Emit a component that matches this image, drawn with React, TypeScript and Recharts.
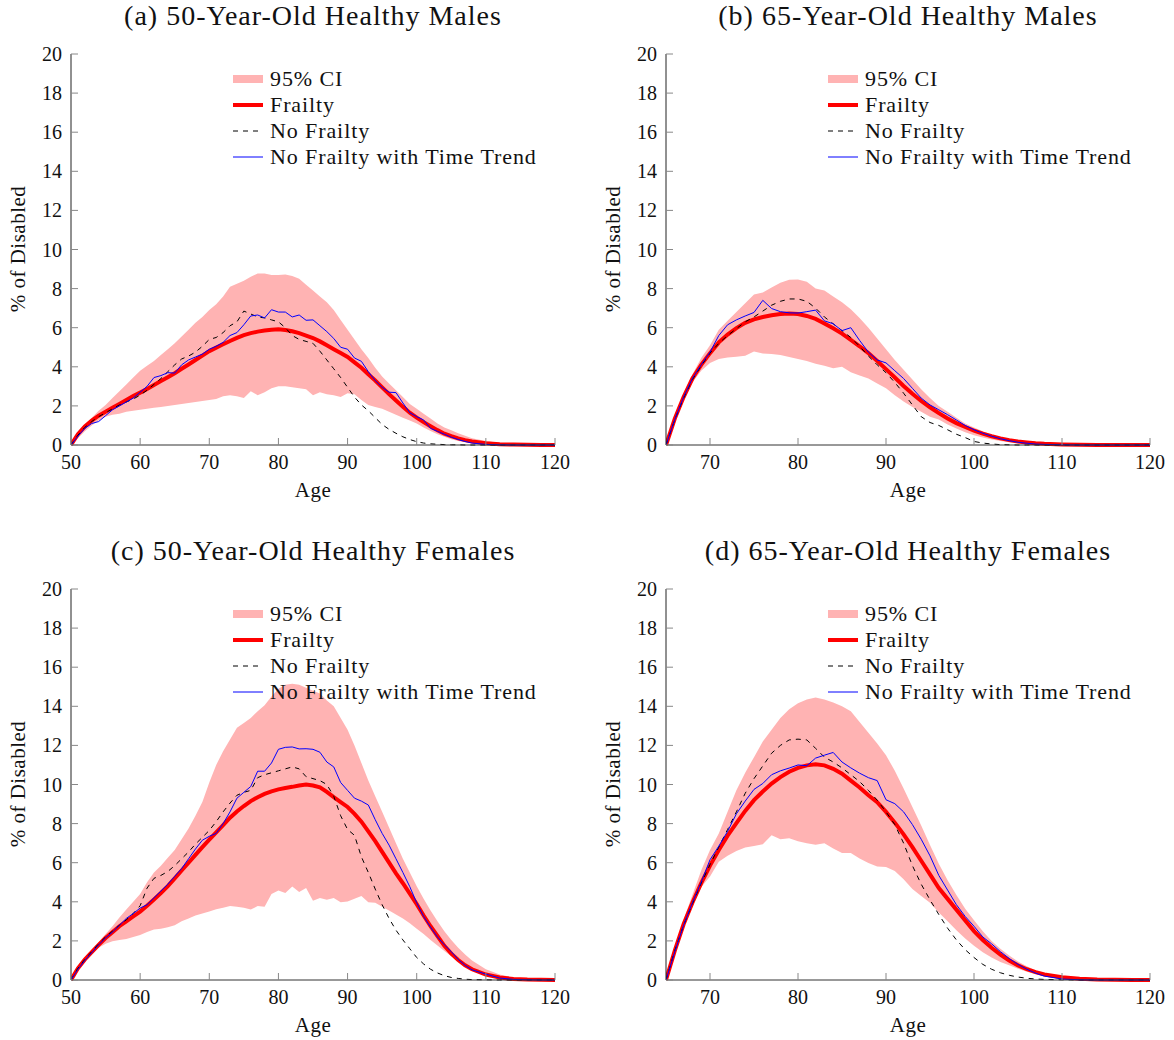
import { ComposedChart, Area, Line, XAxis, YAxis, Legend } from 'recharts';

// ages used by the 50-year-old panels (a, c) and the 65-year-old panels (b, d)
const ages50 = [
  50, 51, 52, 53, 54, 55, 56, 57, 58, 59,
  60, 61, 62, 63, 64, 65, 66, 67, 68, 69,
  70, 71, 72, 73, 74, 75, 76, 77, 78, 79,
  80, 81, 82, 83, 84, 85, 86, 87, 88, 89,
  90, 91, 92, 93, 94, 95, 96, 97, 98, 99,
  100, 101, 102, 103, 104, 105, 106, 107, 108,
  110, 112, 114, 116, 118, 120,
];
const ages65 = [
  65, 66, 67, 68, 69, 70, 71, 72, 73, 74,
  75, 76, 77, 78, 79, 80, 81, 82, 83, 84,
  85, 86, 87, 88, 89, 90, 91, 92, 93, 94,
  95, 96, 97, 98, 99, 100, 101, 102, 103, 104,
  105, 106, 107, 108,
  110, 112, 114, 116, 118, 120,
];

const ticks50 = [50, 60, 70, 80, 90, 100, 110, 120];
const ticks65 = [70, 80, 90, 100, 110, 120];
const yTicks = [0, 2, 4, 6, 8, 10, 12, 14, 16, 18, 20];

// (a) 50-year-old healthy males
const upperA = [
  0, 0.5, 1.0, 1.4, 1.75, 2.05, 2.4, 2.75, 3.1, 3.45,
  3.8, 4.05, 4.3, 4.6, 4.9, 5.2, 5.55, 5.9, 6.25, 6.55,
  6.9, 7.2, 7.6, 8.1, 8.25, 8.4, 8.6, 8.77, 8.77, 8.7,
  8.7, 8.72, 8.65, 8.5, 8.2, 7.9, 7.6, 7.3, 6.9, 6.4,
  5.9, 5.4, 4.9, 4.45, 3.95, 3.5, 3.15, 2.8, 2.45, 2.1,
  1.85, 1.6, 1.35, 1.1, 0.9, 0.75, 0.6, 0.47, 0.35,
  0.2, 0.1, 0.05, 0.02, 0.01, 0,
];
const lowerA = [
  0, 0.35, 0.7, 1.0, 1.25, 1.45, 1.55, 1.6, 1.7, 1.75,
  1.8, 1.85, 1.9, 1.95, 2.0, 2.05, 2.1, 2.15, 2.2, 2.25,
  2.3, 2.35, 2.5, 2.55, 2.5, 2.4, 2.75, 2.55, 2.7, 2.9,
  3.0, 3.0, 2.95, 2.9, 2.85, 2.55, 2.7, 2.6, 2.55, 2.45,
  2.65, 2.6, 2.3, 2.05, 1.95, 1.85, 1.7, 1.55, 1.4, 1.25,
  1.1, 0.9, 0.72, 0.55, 0.42, 0.3, 0.2, 0.14, 0.1,
  0.05, 0.02, 0.01, 0, 0, 0,
];
const frailA = [
  0, 0.55, 0.95, 1.25, 1.5, 1.7, 1.9, 2.1, 2.3, 2.5,
  2.68, 2.87, 3.07, 3.27, 3.47, 3.67, 3.9, 4.12, 4.35, 4.57,
  4.8, 4.98, 5.15, 5.32, 5.48, 5.62, 5.72, 5.8, 5.86, 5.9,
  5.92, 5.88, 5.82, 5.72, 5.6, 5.47, 5.3, 5.1, 4.9, 4.7,
  4.5, 4.23, 3.95, 3.62, 3.3, 2.95, 2.6, 2.28, 1.95, 1.65,
  1.4, 1.17, 0.96, 0.76, 0.58, 0.45, 0.34, 0.25, 0.18,
  0.09, 0.04, 0.02, 0.01, 0, 0,
];
const noFrailA = [
  0, 0.5, 0.9, 1.2, 1.45, 1.65, 1.85, 2.05, 2.2, 2.35,
  2.55, 2.8, 3.1, 3.4, 3.75, 4.1, 4.4, 4.55, 4.75, 5.05,
  5.4, 5.5, 5.75, 6.1, 6.3, 6.85, 6.7, 6.55, 6.5, 6.4,
  6.3, 6.0, 5.6, 5.4, 5.3, 5.2, 4.8, 4.35, 3.9, 3.45,
  2.95, 2.45, 2.05, 1.75, 1.4, 1.05, 0.8, 0.6, 0.42, 0.28,
  0.17, 0.1, 0.06, 0.04, 0.02, 0.01, 0.01, 0, 0,
  0, 0, 0, 0, 0, 0,
];
const trendA = [
  0, 0.45, 0.85, 1.1, 1.2, 1.5, 1.8, 2.0, 2.2, 2.4,
  2.7, 3.0, 3.45, 3.55, 3.7, 3.68, 4.1, 4.35, 4.5, 4.65,
  4.9, 5.05, 5.25, 5.6, 5.75, 6.15, 6.6, 6.65, 6.5, 6.92,
  6.8, 6.8, 6.55, 6.65, 6.38, 6.4, 6.1, 5.8, 5.45, 5.0,
  4.9, 4.45, 4.28, 3.75, 3.3, 2.95, 2.7, 2.68, 2.15, 1.65,
  1.45, 1.28, 0.85, 0.7, 0.55, 0.4, 0.28, 0.18, 0.1,
  0.03, 0.01, 0, 0, 0, 0,
];

// (b) 65-year-old healthy males
const upperB = [
  0, 1.45, 2.6, 3.6, 4.45, 5.1, 5.9, 6.35, 6.8, 7.25,
  7.7, 7.8, 8.05, 8.3, 8.45, 8.47, 8.35, 8.0, 7.9, 7.6,
  7.3, 6.95, 6.5, 6.0, 5.45, 4.9, 4.35, 3.85, 3.35, 2.85,
  2.4, 2.0, 1.7, 1.4, 1.1, 0.9, 0.7, 0.52, 0.38, 0.27,
  0.18, 0.12, 0.08, 0.05,
  0.02, 0.01, 0, 0, 0, 0,
];
const lowerB = [
  0, 1.2, 2.3, 3.2, 3.8, 4.2, 4.4, 4.48, 4.52, 4.56,
  4.78, 4.68, 4.65, 4.6, 4.5, 4.4, 4.3, 4.15, 4.05, 3.92,
  4.0, 3.72, 3.55, 3.4, 3.15, 2.9, 2.55, 2.22, 1.95, 1.7,
  1.45, 1.3, 1.05, 0.85, 0.65, 0.5, 0.38, 0.28, 0.2, 0.14,
  0.1, 0.07, 0.04, 0.03,
  0.01, 0, 0, 0, 0, 0,
];
const frailB = [
  0, 1.35, 2.45, 3.4, 4.1, 4.7, 5.25, 5.65, 5.98, 6.25,
  6.43, 6.55, 6.64, 6.7, 6.72, 6.7, 6.6, 6.45, 6.22, 5.97,
  5.7, 5.38, 5.05, 4.7, 4.3, 3.88, 3.45, 3.02, 2.62, 2.25,
  1.93, 1.63, 1.36, 1.12, 0.92, 0.74, 0.58, 0.45, 0.34, 0.25,
  0.18, 0.13, 0.09, 0.06,
  0.03, 0.01, 0, 0, 0, 0,
];
const noFrailB = [
  0, 1.3, 2.4, 3.35, 4.05, 4.7, 5.2, 5.6, 5.95, 6.3,
  6.55, 6.85, 7.15, 7.35, 7.47, 7.47, 7.35, 7.0, 6.55, 6.2,
  5.85, 5.5, 5.05, 4.55, 4.1, 3.7, 3.2, 2.65, 2.05, 1.45,
  1.15, 1.0, 0.78, 0.55, 0.38, 0.18, 0.1, 0.05, 0.02, 0.01,
  0, 0, 0, 0,
  0, 0, 0, 0, 0, 0,
];
const trendB = [
  0, 1.3, 2.45, 3.4, 4.1, 4.75, 5.6, 6.15, 6.4, 6.6,
  6.78, 7.4, 6.98, 6.82, 6.76, 6.75, 6.82, 6.9, 6.35, 6.2,
  5.85, 6.0, 5.35, 4.75, 4.35, 4.2, 3.8, 3.4, 2.9, 2.4,
  2.05, 1.8, 1.55, 1.28, 1.0, 0.78, 0.6, 0.45, 0.32, 0.22,
  0.14, 0.09, 0.05, 0.03,
  0.01, 0, 0, 0, 0, 0,
];

// (c) 50-year-old healthy females
const upperC = [
  0, 0.6, 1.1, 1.5, 1.95, 2.35, 2.75, 3.2, 3.6, 4.0,
  4.4, 5.0, 5.5, 5.85, 6.25, 6.65, 7.2, 7.75, 8.4, 9.1,
  10.1, 11.0, 11.7, 12.3, 12.9, 13.15, 13.4, 13.75, 14.05, 14.5,
  14.9, 15.1, 15.15, 15.1, 14.95, 14.8, 14.65, 14.3, 14.0, 13.4,
  12.8, 12.0, 11.1, 10.2, 9.4, 8.6, 7.8, 7.0, 6.2, 5.5,
  4.8, 4.15, 3.55, 3.0, 2.5, 2.05, 1.65, 1.3, 1.0,
  0.55, 0.28, 0.12, 0.05, 0.02, 0.01,
];
const lowerC = [
  0, 0.45, 0.9, 1.3, 1.65, 1.85, 1.98, 2.05, 2.1, 2.2,
  2.3, 2.45, 2.58, 2.62, 2.7, 2.8, 3.0, 3.15, 3.3, 3.4,
  3.5, 3.62, 3.7, 3.78, 3.75, 3.7, 3.6, 3.78, 3.75, 4.4,
  4.58, 4.45, 4.78, 4.5, 4.7, 4.05, 4.2, 4.1, 4.2, 3.98,
  4.02, 4.15, 4.3, 3.98, 3.95, 3.75, 3.55, 3.35, 3.15, 2.9,
  2.62, 2.35, 2.05, 1.77, 1.48, 1.22, 0.98, 0.75, 0.55,
  0.25, 0.1, 0.04, 0.01, 0, 0,
];
const frailC = [
  0, 0.6, 1.05, 1.42, 1.8, 2.15, 2.45, 2.75, 3.0, 3.25,
  3.5, 3.8, 4.12, 4.45, 4.8, 5.2, 5.6, 6.0, 6.4, 6.8,
  7.18, 7.55, 7.92, 8.3, 8.62, 8.9, 9.15, 9.35, 9.52, 9.65,
  9.75, 9.82, 9.88, 9.95, 10.0, 9.95, 9.85, 9.62, 9.35, 9.1,
  8.85, 8.5, 8.1, 7.6, 7.1, 6.55, 6.0, 5.45, 4.95, 4.42,
  3.88, 3.3, 2.75, 2.25, 1.75, 1.35, 1.02, 0.75, 0.55,
  0.28, 0.13, 0.05, 0.02, 0.01, 0,
];
const noFrailC = [
  0, 0.6, 1.05, 1.45, 1.85, 2.2, 2.5, 2.8, 3.08, 3.4,
  3.8, 4.7, 5.2, 5.35, 5.55, 5.85, 6.2, 6.55, 6.95, 7.3,
  7.65, 8.1, 8.6, 9.05, 9.45, 9.6, 9.7, 10.35, 10.5, 10.6,
  10.7, 10.8, 10.9, 10.8, 10.4, 10.3, 10.2, 10.0, 9.4, 8.4,
  7.7, 7.4, 6.3, 5.5, 4.65, 3.85, 3.15, 2.55, 2.05, 1.6,
  1.15, 0.82, 0.55, 0.36, 0.22, 0.13, 0.08, 0.04, 0.02,
  0.01, 0, 0, 0, 0, 0,
];
const trendC = [
  0, 0.55, 1.0, 1.4, 1.8, 2.15, 2.45, 2.8, 3.15, 3.4,
  3.68, 3.85, 4.2, 4.55, 4.9, 5.3, 5.7, 6.2, 6.7, 7.15,
  7.35, 7.5, 8.0, 8.6, 9.3, 9.6, 9.9, 10.68, 10.68, 11.1,
  11.8, 11.9, 11.92, 11.82, 11.83, 11.8, 11.65, 11.15, 10.9, 10.1,
  9.7, 9.3, 9.15, 8.95, 8.2, 7.5, 6.9, 6.2, 5.5, 4.77,
  3.95, 3.25, 2.7, 2.2, 1.8, 1.45, 1.05, 0.75, 0.52,
  0.3, 0.1, 0.03, 0.01, 0, 0,
];

// (d) 65-year-old healthy females
const upperD = [
  0, 1.6, 3.1, 4.35, 5.6, 6.65, 7.5, 8.6, 9.7, 10.6,
  11.4, 12.2, 12.8, 13.4, 13.85, 14.15, 14.35, 14.45, 14.35, 14.2,
  14.0, 13.75, 13.2, 12.65, 12.1, 11.5, 10.7, 9.8, 8.85, 7.9,
  6.9, 5.95, 5.1, 4.35, 3.65, 3.05, 2.5, 2.0, 1.6, 1.25,
  0.95, 0.7, 0.5, 0.35,
  0.15, 0.06, 0.02, 0.01, 0, 0,
];
const lowerD = [
  0, 1.4, 2.7, 3.8, 4.75, 5.3, 6.05, 6.35, 6.6, 6.78,
  6.85, 6.95, 7.4, 7.2, 7.25, 7.1, 7.0, 6.92, 7.0, 6.72,
  6.5, 6.5, 6.22, 5.98, 5.8, 5.78, 5.58, 5.15, 4.65, 4.3,
  3.95, 3.45, 3.0, 2.55, 2.12, 1.75, 1.42, 1.15, 0.92, 0.75,
  0.58, 0.42, 0.3, 0.2,
  0.08, 0.03, 0.01, 0, 0, 0,
];
const frailD = [
  0, 1.5, 2.85, 3.95, 4.95, 5.85, 6.65, 7.38, 8.02, 8.65,
  9.2, 9.64, 10.05, 10.38, 10.65, 10.85, 10.98, 11.04, 10.98, 10.8,
  10.55, 10.2, 9.85, 9.45, 9.1, 8.6, 8.05, 7.45, 6.8, 6.1,
  5.4, 4.7, 4.15, 3.6, 3.05, 2.5, 2.05, 1.65, 1.3, 1.0,
  0.75, 0.55, 0.4, 0.28,
  0.14, 0.07, 0.03, 0.01, 0, 0,
];
const noFrailD = [
  0, 1.5, 2.8, 3.9, 4.95, 5.9, 6.8, 7.7, 8.6, 9.55,
  10.3, 10.95, 11.6, 12.0, 12.28, 12.32, 12.28, 11.85, 11.4, 11.15,
  10.85, 10.5, 10.15, 9.7, 9.2, 8.6, 7.95, 7.0, 5.85, 4.9,
  4.1, 3.35, 2.65, 2.05, 1.55, 1.15, 0.8, 0.55, 0.37, 0.24,
  0.15, 0.09, 0.05, 0.03,
  0.01, 0, 0, 0, 0, 0,
];
const trendD = [
  0, 1.45, 2.8, 3.95, 5.0, 6.15, 6.85, 7.6, 8.5, 9.15,
  9.75, 10.05, 10.5, 10.7, 10.84, 11.0, 10.96, 11.35, 11.5, 11.64,
  11.15, 10.85, 10.58, 10.35, 10.2, 9.22, 9.02, 8.6, 7.95, 7.2,
  6.35, 5.35, 4.6, 3.85, 3.25, 2.75, 2.2, 1.85, 1.45, 1.1,
  0.8, 0.55, 0.35, 0.2,
  0.05, 0.01, 0, 0, 0, 0,
];

const FONT = '"Liberation Serif", "Times New Roman", serif';
const PINK = '#ffb3b3';
const W = 575;
const H = 500;

function buildRows(ages: number[], lo: number[], hi: number[], fr: number[], nf: number[], tt: number[]) {
  return ages.map((age, i) => ({
    age,
    ci: [lo[i], hi[i]],
    frailty: fr[i],
    noFrailty: nf[i],
    trend: tt[i],
  }));
}

const YTick = (props: any) => {
  const { x, y, payload } = props;
  return (
    <g>
      <line x1={x} x2={x + 7} y1={y} y2={y} stroke="#888" />
      <text x={x - 9} y={y + 7} textAnchor="end" fontSize={20} fontFamily={FONT} fill="#111">
        {payload.value}
      </text>
    </g>
  );
};

const XTick = (props: any) => {
  const { x, y, payload } = props;
  return (
    <g>
      <line x1={x} x2={x} y1={y} y2={y - 7} stroke="#888" />
      <text x={x} y={y + 24} textAnchor="middle" fontSize={20} fontFamily={FONT} fill="#111">
        {payload.value}
      </text>
    </g>
  );
};

const legendItems = [
  { label: '95% CI', kind: 'band' },
  { label: 'Frailty', kind: 'red' },
  { label: 'No Frailty', kind: 'dash' },
  { label: 'No Frailty with Time Trend', kind: 'blue' },
];

function LegendBox() {
  return (
    <div style={{ fontFamily: FONT }}>
      {legendItems.map((it) => (
        <div key={it.label} style={{ display: 'flex', alignItems: 'center', height: 26 }}>
          <svg width={30} height={26}>
            {it.kind === 'band' && <rect x={0} y={9} width={30} height={8} fill={PINK} />}
            {it.kind === 'red' && <line x1={0} x2={30} y1={13} y2={13} stroke="#ff0000" strokeWidth={4} />}
            {it.kind === 'dash' && (
              <line x1={0} x2={30} y1={13} y2={13} stroke="#000" strokeWidth={1} strokeDasharray="5 5" />
            )}
            {it.kind === 'blue' && <line x1={0} x2={30} y1={13} y2={13} stroke="#0000ff" strokeWidth={1} />}
          </svg>
          <span style={{ marginLeft: 7, fontSize: 22, letterSpacing: 0.9, color: '#111', whiteSpace: 'nowrap' }}>
            {it.label}
          </span>
        </div>
      ))}
    </div>
  );
}

type PanelProps = {
  title: string;
  left: number;
  top: number;
  rows: any[];
  domain: [number, number];
  xTicks: number[];
};

function Panel({ title, left, top, rows, domain, xTicks }: PanelProps) {
  return (
    <div style={{ position: 'absolute', left, top, width: W, height: H }}>
      <ComposedChart width={W} height={H} data={rows} margin={{ top: 54, right: 20, bottom: 25, left: 26 }}>
        <XAxis
          dataKey="age"
          type="number"
          domain={domain}
          ticks={xTicks}
          interval={0}
          height={30}
          tickSize={0}
          tickMargin={0}
          tickLine={false}
          tick={<XTick />}
          axisLine={{ stroke: '#333' }}
          allowDataOverflow
        />
        <YAxis
          type="number"
          domain={[0, 20]}
          ticks={yTicks}
          interval={0}
          width={45}
          tickSize={0}
          tickMargin={0}
          tickLine={false}
          tick={<YTick />}
          axisLine={{ stroke: '#222' }}
        />
        <Area dataKey="ci" type="linear" stroke="none" fill={PINK} fillOpacity={1} isAnimationActive={false} />
        <Line dataKey="frailty" type="linear" stroke="#ff0000" strokeWidth={4} dot={false} activeDot={false} isAnimationActive={false} />
        <Line dataKey="noFrailty" type="linear" stroke="#000" strokeWidth={1} strokeDasharray="5 5" dot={false} activeDot={false} isAnimationActive={false} />
        <Line dataKey="trend" type="linear" stroke="#0000ff" strokeWidth={1} dot={false} activeDot={false} isAnimationActive={false} />
        <Legend
          layout="vertical"
          align="center"
          verticalAlign="middle"
          content={() => <LegendBox />}
          wrapperStyle={{ left: 233, top: 66, width: 335 }}
        />
      </ComposedChart>
      <div style={{ position: 'absolute', left: 71, top: 0, width: 484, textAlign: 'center', fontFamily: FONT, fontSize: 28, lineHeight: '32px', letterSpacing: 1, color: '#111', whiteSpace: 'nowrap' }}>
        {title}
      </div>
      <div style={{ position: 'absolute', left: 71, top: 477, width: 484, textAlign: 'center', fontFamily: FONT, fontSize: 21, lineHeight: '26px', letterSpacing: 0.5, color: '#111' }}>
        Age
      </div>
      <div style={{ position: 'absolute', left: 18 - 150, top: 249 - 13, width: 300, height: 26, textAlign: 'center', fontFamily: FONT, fontSize: 21, lineHeight: '26px', letterSpacing: 0.5, color: '#111', transform: 'rotate(-90deg)' }}>
        % of Disabled
      </div>
    </div>
  );
}

export default function App() {
  const rowsA = buildRows(ages50, lowerA, upperA, frailA, noFrailA, trendA);
  const rowsB = buildRows(ages65, lowerB, upperB, frailB, noFrailB, trendB);
  const rowsC = buildRows(ages50, lowerC, upperC, frailC, noFrailC, trendC);
  const rowsD = buildRows(ages65, lowerD, upperD, frailD, noFrailD, trendD);
  return (
    <div style={{ position: 'absolute', left: 0, top: 0, width: 1174, height: 1040, background: '#fff', overflow: 'hidden' }}>
      <Panel title="(a) 50-Year-Old Healthy Males" left={0} top={0} rows={rowsA} domain={[50, 120]} xTicks={ticks50} />
      <Panel title="(b) 65-Year-Old Healthy Males" left={595} top={0} rows={rowsB} domain={[65, 120]} xTicks={ticks65} />
      <Panel title="(c) 50-Year-Old Healthy Females" left={0} top={535} rows={rowsC} domain={[50, 120]} xTicks={ticks50} />
      <Panel title="(d) 65-Year-Old Healthy Females" left={595} top={535} rows={rowsD} domain={[65, 120]} xTicks={ticks65} />
    </div>
  );
}
